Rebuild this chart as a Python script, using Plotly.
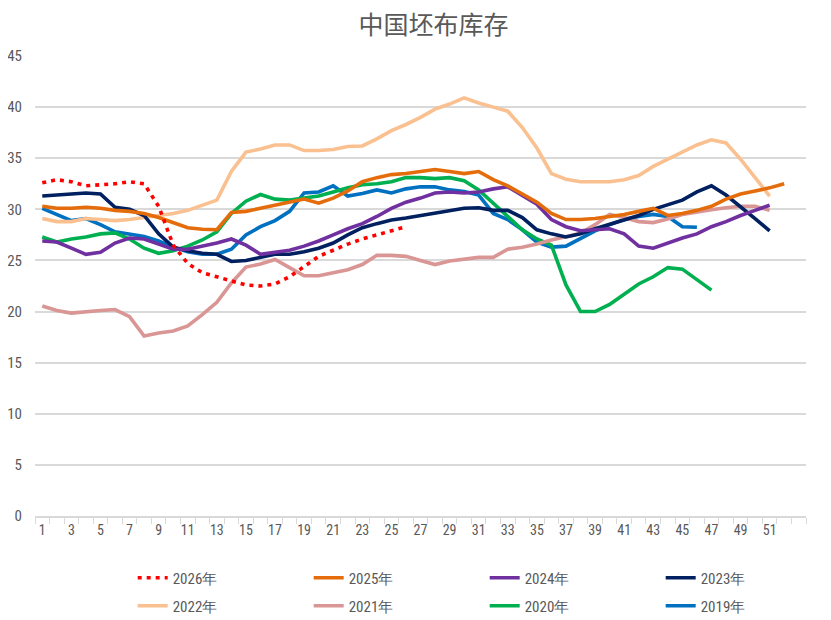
import plotly.graph_objects as go

# --- Data: weekly grey cloth inventory (days), week 1..53 ---
y2026 = [32.6, 32.9, 32.7, 32.3, 32.4, 32.5, 32.7, 32.5, 30.3, 26.5, 24.7, 23.8, 23.4,
         23.0, 22.6, 22.5, 22.7, 23.4, 24.4, 25.4, 26.0, 26.6, 27.1, 27.5, 27.9, 28.3]
y2025 = [30.3, 30.1, 30.1, 30.2, 30.1, 29.9, 29.8, 29.6, 29.2, 28.7, 28.2, 28.05, 28.0,
         29.7, 29.8, 30.1, 30.4, 30.7, 31.0, 30.6, 31.1, 31.8, 32.7, 33.1, 33.4, 33.5,
         33.7, 33.9, 33.7, 33.5, 33.7, 32.9, 32.3, 31.5, 30.7, 29.6, 29.0, 29.0, 29.1,
         29.3, 29.5, 29.8, 30.1, 29.4, 29.6, 29.9, 30.3, 31.0, 31.5, 31.8, 32.1, 32.5]
y2024 = [26.9, 26.8, 26.2, 25.6, 25.8, 26.7, 27.2, 27.1, 26.6, 26.1, 26.1, 26.4, 26.7,
         27.1, 26.5, 25.6, 25.8, 26.0, 26.4, 26.9, 27.5, 28.1, 28.6, 29.3, 30.1, 30.7,
         31.1, 31.6, 31.7, 31.6, 31.7, 32.0, 32.2, 31.4, 30.5, 29.0, 28.3, 27.9, 28.0,
         28.1, 27.6, 26.4, 26.2, 26.7, 27.2, 27.6, 28.3, 28.8, 29.4, 29.9, 30.4]
y2023 = [31.3, 31.4, 31.5, 31.6, 31.5, 30.2, 30.0, 29.4, 27.6, 26.3, 25.95, 25.7, 25.6,
         24.9, 25.0, 25.3, 25.6, 25.6, 25.85, 26.2, 26.7, 27.5, 28.2, 28.6, 28.95, 29.15,
         29.4, 29.6, 29.9, 30.1, 30.15, 29.9, 29.9, 29.2, 28.0, 27.6, 27.3, 27.6, 28.1,
         28.55, 29.0, 29.4, 30.0, 30.45, 30.9, 31.7, 32.3, 31.4, 30.3, 29.1, 27.9]
y2022 = [29.1, 28.8, 28.8, 29.1, 29.0, 28.9, 29.0, 29.2, 29.4, 29.6, 29.9, 30.4, 30.9,
         33.7, 35.6, 35.9, 36.3, 36.3, 35.75, 35.75, 35.85, 36.15, 36.2, 36.9, 37.7, 38.3,
         39.0, 39.8, 40.3, 40.9, 40.4, 40.0, 39.6, 38.0, 36.0, 33.5, 32.95, 32.7, 32.7,
         32.7, 32.9, 33.3, 34.2, 34.9, 35.6, 36.3, 36.8, 36.5, 34.9, 33.1, 31.3]
y2021 = [20.55, 20.1, 19.85, 20.0, 20.1, 20.2, 19.5, 17.6, 17.9, 18.1, 18.6, 19.7, 20.9,
         22.8, 24.35, 24.65, 25.1, 24.3, 23.5, 23.5, 23.8, 24.1, 24.6, 25.5, 25.5, 25.4,
         25.0, 24.6, 24.95, 25.1, 25.3, 25.3, 26.1, 26.3, 26.6, 27.0, 27.3, 27.65, 28.5,
         29.5, 29.2, 28.8, 28.7, 29.05, 29.5, 29.75, 29.95, 30.15, 30.3, 30.3, 29.9]
y2020 = [27.3, 26.8, 27.1, 27.3, 27.6, 27.7, 27.1, 26.2, 25.7, 25.95, 26.4, 27.0, 27.8,
         29.6, 30.8, 31.45, 31.0, 30.9, 31.1, 31.3, 31.7, 32.1, 32.4, 32.5, 32.7, 33.1,
         33.1, 33.0, 33.1, 32.8, 31.9, 30.6, 29.2, 28.0, 27.1, 26.5, 22.6, 20.0, 20.0,
         20.7, 21.7, 22.7, 23.4, 24.3, 24.15, 23.1, 22.1]
y2019 = [30.1, 29.5, 28.9, 29.1, 28.5, 27.8, 27.55, 27.35, 26.9, 26.3, 25.85, 25.6, 25.6,
         26.1, 27.5, 28.3, 28.9, 29.8, 31.6, 31.7, 32.3, 31.3, 31.55, 31.9, 31.6, 32.0,
         32.2, 32.2, 31.9, 31.75, 31.4, 29.6, 29.0, 28.0, 26.8, 26.3, 26.4, 27.2, 27.9,
         28.5, 29.0, 29.3, 29.5, 29.3, 28.3, 28.25]

weeks = list(range(1, 54))
week_labels = [str(w) for w in range(1, 52, 2)]

GREY_TEXT = "#595959"
GRID = "#D9D9D9"
TICK_FONT = "Liberation Sans Narrow, Roboto Condensed, Liberation Sans, sans-serif"

# the page body adds an 8px margin, so the figure is drawn 8px smaller
W, H = 823, 612

# name, values, colour, dash, legend row
series = [
    ("2026年", y2026, "#FF0000", "4px,5px", "legend"),
    ("2025年", y2025, "#E46C0A", "solid", "legend"),
    ("2024年", y2024, "#7030A0", "solid", "legend"),
    ("2023年", y2023, "#002060", "solid", "legend"),
    ("2022年", y2022, "#FAC090", "solid", "legend2"),
    ("2021年", y2021, "#D99694", "solid", "legend2"),
    ("2020年", y2020, "#00B050", "solid", "legend2"),
    ("2019年", y2019, "#0070C0", "solid", "legend2"),
]

fig = go.Figure()

# oldest year drawn first so the newer ones sit on top
for rank, (name, vals, color, dash, leg) in reversed(list(enumerate(series))):
    fig.add_trace(go.Scatter(
        x=weeks[:len(vals)],
        y=vals,
        mode="lines",
        name=name,
        legend=leg,
        legendrank=rank + 1,
        line=dict(color=color, width=3.6, dash=dash),
    ))

legend_common = dict(
    orientation="h",
    xref="container",
    yref="container",
    xanchor="left",
    yanchor="middle",
    x=0.1515,
    entrywidth=131,
    entrywidthmode="pixels",
    font=dict(family=TICK_FONT, size=15, color=GREY_TEXT),
    bgcolor="rgba(0,0,0,0)",
    traceorder="normal",
)

fig.update_layout(
    width=W,
    height=H,
    margin=dict(l=27, r=25, t=48, b=104, autoexpand=False),
    paper_bgcolor="white",
    plot_bgcolor="white",
    title=dict(
        text="中国坯布库存",
        x=425.5 / W,
        xref="container",
        xanchor="center",
        y=1 - 17 / H,
        yref="container",
        yanchor="middle",
        font=dict(family="Noto Sans CJK SC, sans-serif", size=25, color=GREY_TEXT),
    ),
    xaxis=dict(
        range=[0.5, 53.5],
        tickmode="array",
        tickvals=list(range(1, 52, 2)),
        ticktext=week_labels,
        ticks="",
        showgrid=False,
        zeroline=False,
        showline=True,
        linecolor=GRID,
        linewidth=1.5,
        tickfont=dict(family=TICK_FONT, size=14, color=GREY_TEXT),
        minor=dict(
            tickmode="array",
            tickvals=[w - 0.5 for w in range(1, 55)],
            ticks="outside",
            ticklen=6,
            tickwidth=1,
            tickcolor=GRID,
            showgrid=False,
        ),
    ),
    yaxis=dict(
        range=[0, 45],
        dtick=5,
        showgrid=True,
        gridcolor=GRID,
        gridwidth=1.5,
        zeroline=False,
        showline=False,
        ticks="",
        ticklabelstandoff=12,
        tickfont=dict(family=TICK_FONT, size=15, color=GREY_TEXT),
    ),
    legend=dict(legend_common, y=1 - 570 / H),
    legend2=dict(legend_common, y=1 - 598 / H),
)

fig.write_html("out.html")
